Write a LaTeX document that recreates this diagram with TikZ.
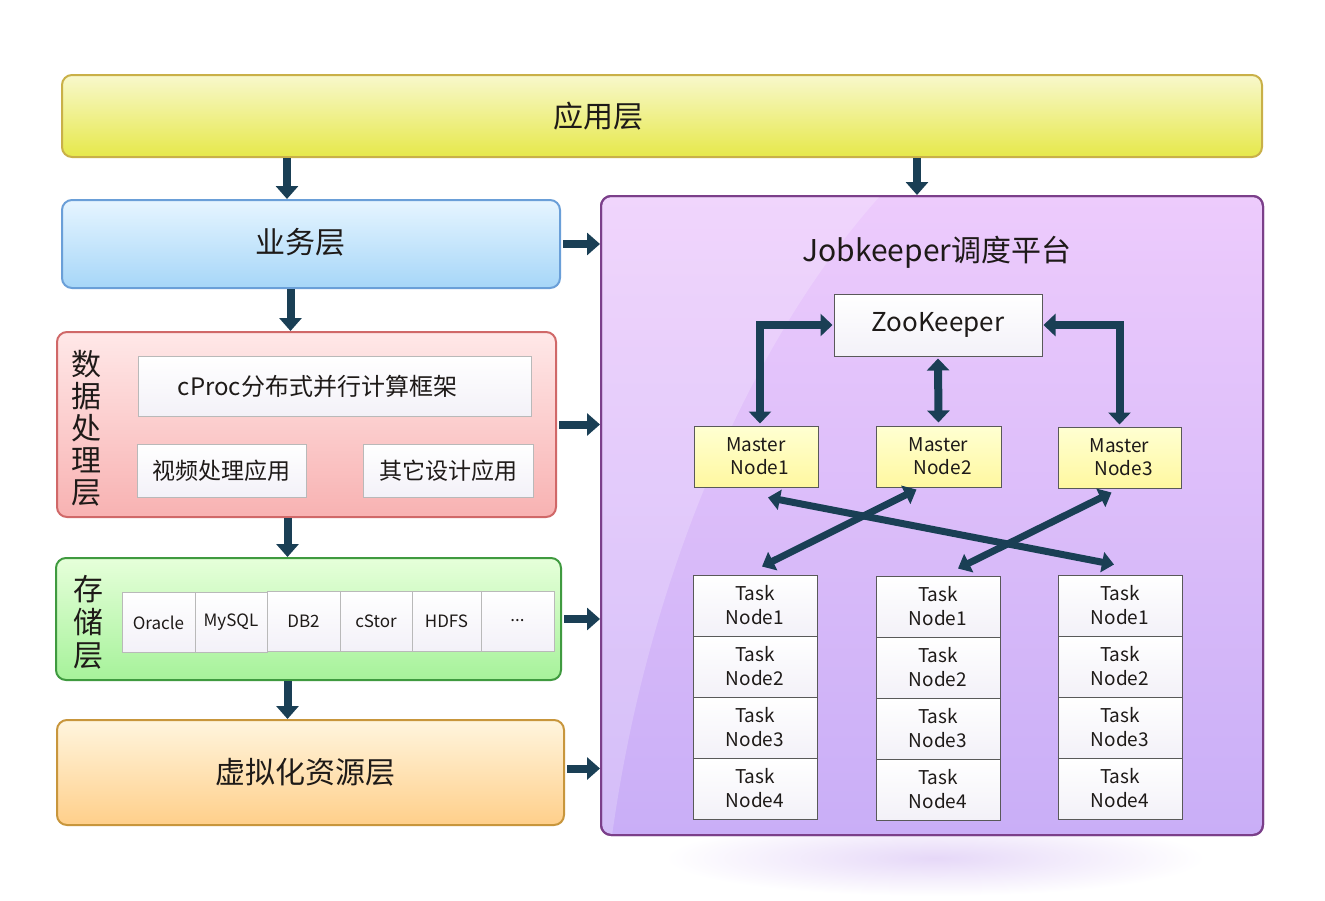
\documentclass[tikz,border=0pt]{standalone}
\usepackage{fontspec}
\setmainfont{Noto Sans CJK SC}
\usetikzlibrary{arrows.meta}
\definecolor{arrowc}{HTML}{1A3F55}
\definecolor{txt}{HTML}{1E1A18}
\definecolor{appT}{HTML}{F8F8CC}\definecolor{appB}{HTML}{E6E84A}\definecolor{appD}{HTML}{C9B048}
\definecolor{bizT}{HTML}{E6F5FF}\definecolor{bizB}{HTML}{A6D6F8}\definecolor{bizD}{HTML}{6A9FD8}
\definecolor{datT}{HTML}{FFE8E8}\definecolor{datB}{HTML}{F8B2B2}\definecolor{datD}{HTML}{D06868}
\definecolor{stoT}{HTML}{E6FFDA}\definecolor{stoB}{HTML}{A6F29A}\definecolor{stoD}{HTML}{3F9A3F}
\definecolor{virT}{HTML}{FFF5DE}\definecolor{virB}{HTML}{FFCF8A}\definecolor{virD}{HTML}{C8963C}
\definecolor{jobT}{HTML}{EDCBFC}\definecolor{jobB}{HTML}{C9AEF7}\definecolor{jobD}{HTML}{7B3F8A}
\definecolor{shad}{HTML}{E6D8F8}
\definecolor{inb}{HTML}{F3F1F8}
\definecolor{mT}{HTML}{FFFFD2}\definecolor{mB}{HTML}{FFF8A0}
\begin{document}
\begin{tikzpicture}[x=1pt,y=-1pt,
  every node/.style={inner sep=0pt, text=txt},
  fnt/.style 2 args={font=\fontsize{#1}{#2}\selectfont},
  layer/.style={line width=2pt, rounded corners=10pt},
  inbox/.style={draw=gray!55, line width=0.8pt, top color=white, bottom color=inb},
  mbox/.style={draw=gray!70!black, line width=1pt, top color=mT, bottom color=mB, align=center, fnt={19}{23}},
  tbox/.style={draw=gray!70!black, line width=1pt, top color=white, bottom color=inb, minimum width=124pt, minimum height=61pt, align=center, fnt={19}{24}},
  scell/.style={inbox, minimum height=60pt, fnt={17}{20}},
  bigarr/.style={draw=arrowc, line width=8pt, -{Triangle[length=13pt,width=22pt]}},
  elb/.style={draw=arrowc, line width=8pt, {Triangle[length=12pt,width=22pt]}-{Triangle[length=12pt,width=22pt]}},
  xarr/.style={draw=arrowc, line width=7pt, {Triangle[length=12pt,width=20pt]}-{Triangle[length=12pt,width=20pt]}}
]
\useasboundingbox (0,0) rectangle (1325,900);
\fill[white] (0,0) rectangle (1325,900);
% shadow under platform
\shade[inner color=shad, outer color=white] (935,858) ellipse [x radius=270, y radius=38];

% layer boxes
\node[layer, draw=appD, top color=appT, bottom color=appB, minimum width=1200pt, minimum height=82pt] (app) at (662,116) {};
\node[layer, draw=bizD, top color=bizT, bottom color=bizB, minimum width=498pt, minimum height=88pt] (biz) at (311,244) {};
\node[layer, draw=datD, top color=datT, bottom color=datB, minimum width=499pt, minimum height=185pt] (dat) at (306.5,424.5) {};
\node[layer, draw=stoD, top color=stoT, bottom color=stoB, minimum width=505pt, minimum height=122pt] (sto) at (308.5,619) {};
\node[layer, draw=virD, top color=virT, bottom color=virB, minimum width=507pt, minimum height=105pt] (vir) at (310.5,772.5) {};
\node[layer, draw=jobD, top color=jobT, bottom color=jobB, minimum width=662pt, minimum height=639pt] (job) at (932,515.5) {};
\begin{scope}
  \clip[rounded corners=10pt] (602,197) rectangle (1262,834);
  \fill[white, opacity=0.2] (600,196) -- (880,196) .. controls (760,330) and (650,560) .. (612,836) -- (600,836) -- cycle;
\end{scope}
\draw[jobD, line width=2pt, rounded corners=10pt] (601,196) rectangle (1263,835);

% layer labels
\node[fnt={30}{32}] (appl) at (598,116) {应用层};
\node[fnt={30}{32}] (bizl) at (300,242) {业务层};
\node[fnt={30}{32}, align=center] (datl) at (86,428) {数\\[-0.5pt]据\\处\\理\\层};
\node[fnt={30}{33}, align=center] (stol) at (88,622) {存\\储\\层};
\node[fnt={30}{32}] (virl) at (305,772) {虚拟化资源层};
\node[fnt={30}{32}] (jobl) at (937,252) {Jobkeeper调度平台};

% data processing inner boxes
\node[inbox, minimum width=393pt, minimum height=60pt, fnt={24}{26}] (cproc) at (334.5,386) {cProc分布式并行计算框架\rule{34pt}{0pt}};
\node[inbox, minimum width=169pt, minimum height=53pt, fnt={23}{26}] (video) at (221.5,470.5) {视频处理应用};
\node[inbox, minimum width=170pt, minimum height=53pt, fnt={23}{26}] (other) at (448,470.5) {其它设计应用};

% storage cells
\node[scell, minimum width=73pt] (ora) at (158.5,622.5) {Oracle};
\node[scell, minimum width=72pt] (mys) at (231,622.5) {MySQL};
\node[scell, minimum width=73pt] (db2) at (303.5,621) {DB2};
\node[scell, minimum width=72pt] (cst) at (376,621) {cStor};
\node[scell, minimum width=69pt] (hdfs) at (446.5,621) {HDFS};
\node[scell, minimum width=73pt] (dots) at (517.5,621) {...};

% layer arrows
\draw[bigarr] ([xshift=-24pt]biz.north |- app.south) -- ([xshift=-24pt]biz.north);
\draw[bigarr] ([xshift=-15pt]job.north |- app.south) -- ([xshift=-15pt]job.north);
\draw[bigarr] ([xshift=-16pt]dat.north |- biz.south) -- ([xshift=-16pt]dat.north);
\draw[bigarr] ([xshift=-21pt]sto.north |- dat.south) -- ([xshift=-21pt]sto.north);
\draw[bigarr] ([xshift=-23pt]vir.north |- sto.south) -- ([xshift=-23pt]vir.north);
\draw[bigarr] ([xshift=2pt]biz.east) -- (biz.east -| job.west);
\draw[bigarr] ([xshift=2pt]dat.east) -- (dat.east -| job.west);
\draw[bigarr] ([xshift=2pt]sto.east) -- (sto.east -| job.west);
\draw[bigarr] ([shift={(2,-4)}]vir.east) -- ([yshift=4pt]vir.east -| job.west);

% platform nodes
\node[draw=gray!70!black, line width=1pt, top color=white, bottom color=inb, minimum width=208pt, minimum height=62pt, fnt={26}{30}] (zk) at (938,325) {ZooKeeper};
\node[mbox, minimum width=124pt, minimum height=61pt] (m1) at (756,456.5) {Master\\\hspace*{8pt}Node1};
\node[mbox, minimum width=125pt, minimum height=61pt] (m2) at (938.5,456.5) {Master\\\hspace*{8pt}Node2};
\node[mbox, minimum width=123pt, minimum height=61pt] (m3) at (1119.5,457.5) {Master\\\hspace*{8pt}Node3};

\foreach \c/\x/\y in {1/755/575, 2/938/576, 3/1120/575} {
  \foreach \r in {1,2,3,4} {
    \node[tbox] (t\c\r) at (\x, {\y + 30.5 + 61*(\r-1)}) {Task\\Node\r};
  }
}

% platform arrows
\draw[elb] ([xshift=4pt, yshift=2pt]m1.north) |- ([xshift=-1pt]zk.west);
\draw[elb] ([yshift=2pt]m3.north) |- ([xshift=1pt]zk.east);
\draw[elb] ([yshift=-2pt]zk.south) -- ([yshift=3pt]m2.north);
\draw[xarr] ([shift={(12,10)}]m1.south) -- ([shift={(-6,-10)}]t31.north);
\draw[xarr] ([shift={(-22,2)}]m2.south) -- ([shift={(7,-8)}]t11.north);
\draw[xarr] ([shift={(-8,4)}]m3.south) -- ([shift={(20,-7)}]t21.north);
\end{tikzpicture}
\end{document}
